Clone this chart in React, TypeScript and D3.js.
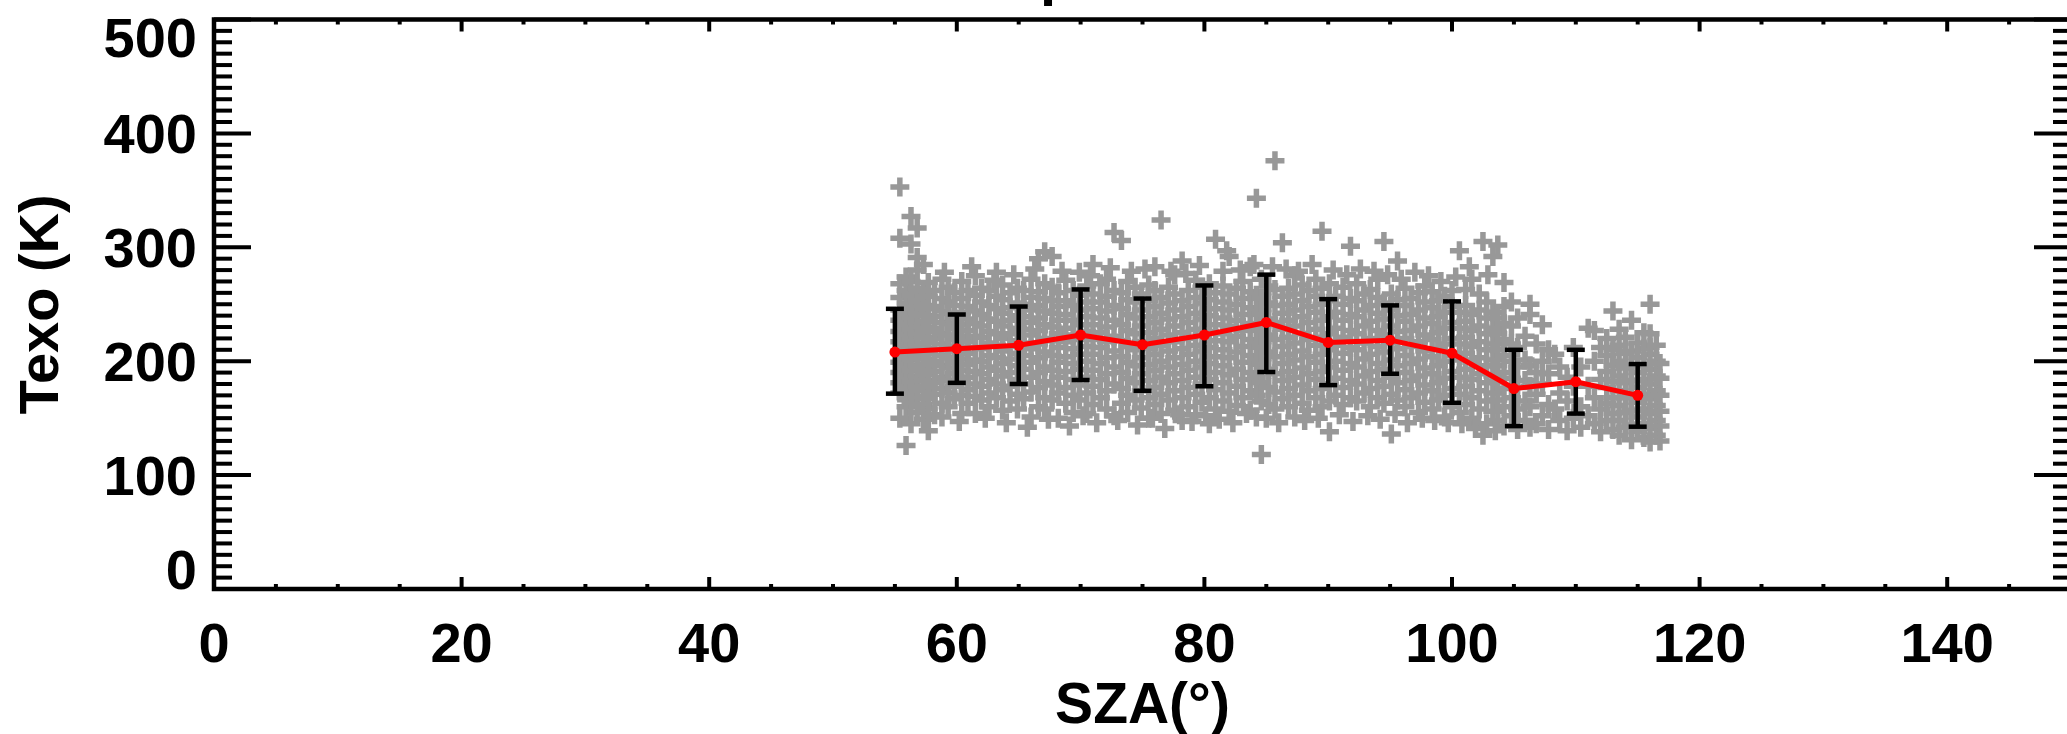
import React, { useEffect } from 'react';
import * as d3 from 'd3';

const W = 2067;
const H = 734;

// Binned means and error bars (SZA bins)
const binSza = [55, 60, 65, 70, 75, 80, 85, 90, 95, 100, 105, 110, 115];
const binMean = [208, 211, 214, 223, 214.5, 223, 234, 216.5, 218.5, 207, 176, 182, 170];
const binHigh = [246, 241, 248, 263, 255, 266.5, 276, 254.5, 249, 252.5, 210, 210, 197.5];
const binLow = [171.5, 181, 180, 183.5, 174, 178, 190.5, 179, 189, 163.5, 143, 154, 142.5];

const xMajorTicks = [0, 20, 40, 60, 80, 100, 120, 140];
const yMajorTicks = [0, 100, 200, 300, 400, 500];

// Individual measurements read column by column: [SZA, Texo values]
const scatterColumns: [number, number[]][] = [
  [55.4, [150, 172, 181, 190, 199, 208, 217, 226, 236, 245, 256, 268, 308, 353]],
  [55.9, [126, 160, 168, 177, 186, 195, 204, 214, 223, 232, 242, 251, 262, 274]],
  [56.3, [145, 164, 173, 182, 192, 201, 210, 219, 228, 238, 247, 258, 270, 303, 327]],
  [56.8, [155, 169, 178, 187, 196, 206, 215, 224, 234, 243, 253, 264, 280, 291, 317]],
  [57.3, [149, 162, 174, 183, 193, 202, 211, 221, 230, 240, 249, 261, 285]],
  [57.7, [139, 158, 167, 178, 188, 197, 207, 216, 226, 235, 246, 257, 269]],
  [58.2, [153, 171, 181, 191, 200, 210, 220, 229, 239, 248, 262]],
  [58.8, [151, 163, 176, 186, 196, 205, 215, 224, 234, 244, 255, 272]],
  [59.3, [160, 172, 183, 194, 203, 213, 223, 233, 242, 252, 265]],
  [59.8, [167, 178, 189, 199, 209, 219, 229, 238, 249, 260]],
  [60.4, [154, 170, 181, 192, 202, 212, 222, 232, 243, 255, 270]],
  [60.9, [163, 175, 186, 197, 207, 217, 227, 237, 248, 262]],
  [61.5, [154, 169, 180, 191, 201, 212, 222, 233, 244, 258, 275]],
  [62.0, [166, 178, 189, 200, 211, 221, 231, 241, 252, 264]],
  [62.6, [160, 172, 184, 195, 205, 216, 226, 237, 249, 262]],
  [63.2, [168, 180, 192, 203, 214, 224, 235, 246, 257, 278]],
  [63.7, [157, 175, 187, 198, 209, 220, 231, 242, 254, 267]],
  [64.3, [165, 178, 190, 202, 213, 224, 236, 247, 260]],
  [64.9, [158, 171, 184, 196, 207, 218, 229, 240, 251, 264]],
  [65.4, [167, 180, 193, 205, 216, 228, 239, 250, 262]],
  [66.0, [151, 173, 186, 199, 211, 223, 234, 245, 256, 272]],
  [66.6, [160, 177, 190, 203, 215, 227, 238, 249, 261, 290]],
  [67.1, [158, 168, 182, 195, 208, 220, 232, 244, 255, 268, 296]],
  [67.7, [166, 179, 192, 205, 218, 230, 242, 253, 265, 292]],
  [68.2, [150, 172, 186, 199, 212, 224, 236, 248, 260]],
  [68.8, [163, 177, 191, 204, 217, 229, 241, 253, 271]],
  [69.4, [155, 170, 184, 198, 211, 223, 236, 249, 262]],
  [69.9, [166, 179, 193, 206, 219, 232, 245, 258, 278]],
  [70.5, [154, 172, 186, 200, 213, 226, 239, 252, 266]],
  [71.0, [162, 178, 192, 206, 219, 232, 246, 259, 285]],
  [71.6, [168, 184, 198, 212, 225, 238, 252, 268]],
  [72.1, [158, 174, 189, 203, 217, 230, 244, 257, 272]],
  [72.7, [152, 180, 195, 209, 222, 236, 249, 262, 313]],
  [73.3, [163, 176, 190, 204, 218, 232, 246, 260, 306]],
  [73.8, [155, 170, 185, 199, 213, 227, 241, 254, 270]],
  [74.4, [166, 181, 196, 210, 224, 238, 252, 265]],
  [74.9, [159, 174, 189, 203, 217, 231, 245, 259]],
  [75.5, [150, 168, 183, 197, 211, 225, 239, 253, 267]],
  [76.0, [162, 177, 192, 206, 220, 234, 248, 262, 283]],
  [76.5, [154, 171, 186, 200, 214, 228, 242, 256, 324]],
  [77.1, [166, 181, 195, 209, 223, 237, 251, 265]],
  [77.6, [157, 174, 189, 203, 217, 231, 245, 259, 276]],
  [78.2, [148, 168, 183, 197, 211, 225, 239, 253, 288]],
  [78.7, [160, 177, 192, 206, 220, 234, 248, 262]],
  [79.3, [153, 171, 186, 200, 214, 228, 242, 256, 271]],
  [79.8, [164, 180, 195, 209, 223, 237, 251, 265]],
  [80.4, [145, 168, 184, 198, 212, 226, 240, 254, 268]],
  [80.9, [158, 175, 190, 204, 218, 232, 246, 260, 307]],
  [81.5, [165, 181, 196, 210, 224, 238, 252, 266, 279]],
  [82.0, [156, 172, 188, 203, 217, 231, 245, 259, 292]],
  [82.6, [161, 178, 193, 208, 222, 236, 250, 264]],
  [83.1, [168, 184, 199, 213, 227, 241, 255, 270]],
  [83.7, [157, 174, 190, 205, 219, 233, 247, 261, 283]],
  [84.2, [151, 170, 186, 201, 216, 230, 244, 258, 343]],
  [84.6, [118, 165, 181, 197, 212, 227, 241, 255, 272]],
  [85.2, [162, 177, 193, 208, 223, 237, 251, 266]],
  [85.7, [158, 173, 189, 204, 219, 234, 249, 263, 376]],
  [86.3, [167, 183, 198, 213, 228, 242, 257, 304]],
  [86.8, [160, 176, 191, 206, 221, 236, 250, 264]],
  [87.3, [151, 170, 186, 201, 216, 231, 245, 259, 275]],
  [87.9, [163, 179, 194, 209, 224, 239, 253, 267]],
  [88.4, [157, 174, 189, 204, 219, 234, 248, 262]],
  [89.0, [168, 184, 199, 214, 228, 243, 257, 272]],
  [89.5, [160, 176, 191, 206, 221, 236, 250, 264, 314]],
  [90.1, [138, 165, 180, 195, 210, 224, 239, 253, 268]],
  [90.6, [170, 185, 200, 214, 229, 243, 257]],
  [91.2, [162, 177, 192, 207, 221, 236, 250, 265]],
  [91.8, [168, 183, 198, 212, 227, 241, 255, 301]],
  [92.3, [165, 180, 195, 210, 224, 239, 253, 268]],
  [92.9, [172, 187, 202, 216, 231, 245, 259]],
  [93.4, [160, 176, 191, 206, 220, 235, 249, 263]],
  [94.0, [168, 183, 198, 213, 227, 242, 256, 272]],
  [94.5, [163, 178, 193, 208, 223, 237, 251, 305]],
  [95.1, [136, 171, 186, 201, 216, 231, 245, 259]],
  [95.6, [166, 181, 196, 211, 226, 240, 254, 288]],
  [96.2, [160, 175, 190, 205, 220, 235, 249, 264]],
  [96.7, [168, 183, 198, 213, 227, 241, 255]],
  [97.3, [155, 172, 187, 202, 217, 231, 245, 260]],
  [97.8, [164, 179, 194, 209, 223, 238, 252, 266]],
  [98.4, [158, 174, 189, 204, 219, 233, 247, 261]],
  [98.9, [166, 181, 196, 211, 225, 239, 253]],
  [99.4, [151, 170, 185, 200, 215, 229, 243, 257]],
  [100.0, [160, 176, 191, 205, 220, 234, 248, 262]],
  [100.6, [155, 171, 186, 201, 215, 229, 243, 297]],
  [101.1, [162, 178, 193, 207, 221, 235, 249, 263]],
  [101.6, [150, 168, 184, 199, 213, 227, 241, 272]],
  [102.2, [158, 174, 189, 203, 217, 231, 245, 259]],
  [102.5, [135, 305]],
  [102.8, [145, 165, 181, 196, 210, 224, 238, 252]],
  [103.3, [156, 172, 187, 201, 215, 229, 243, 292]],
  [103.7, [148, 166, 182, 196, 210, 224, 238, 302]],
  [104.2, [143, 160, 176, 190, 205, 219, 233, 248, 269]],
  [104.8, [152, 168, 185, 200, 215, 231, 252]],
  [105.3, [140, 158, 177, 195, 212, 238]],
  [105.9, [148, 165, 183, 201, 222]],
  [106.3, [142, 160, 178, 196, 241, 250]],
  [106.8, [145, 171, 190, 215]],
  [107.3, [152, 180, 200, 232]],
  [107.8, [140, 162, 189, 210]],
  [108.3, [158, 206]],
  [108.7, [148, 172, 195]],
  [109.3, [139, 165, 186]],
  [109.8, [150, 178, 212]],
  [110.4, [142, 160, 195]],
  [111.0, [152, 178, 229]],
  [111.5, [145, 168, 200, 227]],
  [112.0, [138, 158, 184, 212]],
  [112.5, [148, 163, 177, 191, 205, 220]],
  [113.0, [140, 154, 168, 182, 196, 210, 244]],
  [113.5, [135, 148, 161, 174, 187, 200, 214, 228]],
  [114.0, [142, 155, 168, 181, 194, 207, 221]],
  [114.5, [131, 144, 157, 170, 183, 196, 209, 236]],
  [115.0, [138, 151, 164, 177, 190, 203, 216]],
  [115.5, [133, 145, 158, 171, 184, 197, 211, 225]],
  [116.0, [129, 141, 154, 167, 180, 193, 206, 212, 224, 250]],
  [116.5, [135, 148, 161, 174, 187, 200, 214]],
  [116.8, [130, 143, 156, 170, 185, 198]],
];

// Scattered points at the upper and lower edges of the cloud: [SZA, Texo]
const scatterEdges: [number, number][] = [
  [59.0, 278], [60.2, 147], [61.2, 283], [62.3, 150], [63.0, 271], [64.0, 146], [64.6, 276],
  [65.7, 142], [66.3, 281], [67.4, 149], [68.5, 279], [69.1, 143], [70.2, 152], [70.8, 275],
  [71.3, 146], [72.4, 282], [73.0, 148], [74.1, 279], [74.6, 144], [75.2, 281], [75.8, 150],
  [76.8, 141], [77.3, 279], [78.0, 153], [78.5, 277], [79.0, 147], [79.6, 284], [80.1, 152],
  [81.2, 149], [81.8, 297], [82.3, 146], [82.9, 280], [83.4, 154], [84.0, 285], [85.0, 150],
  [85.5, 283], [86.0, 146], [86.6, 281], [87.6, 279], [88.1, 148], [88.7, 285], [89.2, 150],
  [90.4, 280], [90.9, 153], [91.5, 276], [92.0, 147], [92.6, 281], [93.2, 152], [93.7, 279],
  [94.2, 149], [94.8, 276], [95.4, 154], [95.9, 272], [96.4, 146], [97.0, 278], [97.6, 150],
  [98.1, 275], [98.6, 148], [99.1, 270], [99.7, 146], [100.3, 274], [100.8, 145], [101.4, 283],
  [101.9, 141], [102.9, 276], [103.5, 139],
];

const FONT = "'Liberation Sans', Arial, Helvetica, sans-serif";

export default function App() {
  useEffect(() => {
    document.body.style.margin = '0';
    document.body.style.overflow = 'hidden';
  }, []);

  const x = d3.scaleLinear().domain([0, 150]).range([214, 2071]);
  const y = d3.scaleLinear().domain([0, 500]).range([589, 19.5]);

  const x0 = x(0), x1 = x(150), y0 = y(0), y1 = y(500);

  const points: [number, number][] = scatterColumns
    .flatMap(([s, vs]) => vs.map((v) => [s, v] as [number, number]))
    .concat(scatterEdges);

  const xMinor = d3.range(0, 151, 5);
  const yMinor = d3.range(0, 501, 10);

  const line = d3
    .line<number>()
    .x((_, i) => x(binSza[i]))
    .y((d) => y(d));

  const labelY = (v: number) => Math.min(Math.max(y(v), y1 + 17), y0 - 20);

  return (
    <svg width={W} height={H} style={{ position: 'absolute', left: 0, top: 0, background: '#fff' }}>
      <rect x={0} y={0} width={W} height={H} fill="#fff" />
      {/* title (only descender visible inside the picture) */}
      <text x={1040} y={-6} fontFamily={FONT} fontWeight="bold" fontSize={58} fill="#000">
        p
      </text>

      {/* scatter */}
      <g stroke="#989898" strokeWidth={5.5} fill="none">
        {points.map(([s, v], i) => (
          <path key={i} d={`M${x(s) - 9.5},${y(v)}h19M${x(s)},${y(v) - 9.5}v19`} />
        ))}
      </g>

      {/* error bars */}
      <g stroke="#000" strokeWidth={4.5} fill="none">
        {binSza.map((s, i) => (
          <g key={i}>
            <line x1={x(s)} x2={x(s)} y1={y(binLow[i])} y2={y(binHigh[i])} />
            <line x1={x(s) - 9} x2={x(s) + 9} y1={y(binLow[i])} y2={y(binLow[i])} />
            <line x1={x(s) - 9} x2={x(s) + 9} y1={y(binHigh[i])} y2={y(binHigh[i])} />
          </g>
        ))}
      </g>

      {/* mean line */}
      <path d={line(binMean) || ''} stroke="#ff0000" strokeWidth={5} fill="none" strokeLinejoin="round" />
      <g fill="#ff0000">
        {binSza.map((s, i) => (
          <circle key={i} cx={x(s)} cy={y(binMean[i])} r={5.5} />
        ))}
      </g>

      {/* frame */}
      <rect x={x0} y={y1} width={x1 - x0} height={y0 - y1} fill="none" stroke="#000" strokeWidth={4.5} />

      {/* x ticks bottom & top */}
      <g stroke="#000" strokeWidth={4}>
        {xMinor.map((t) => {
          const len = t % 20 === 0 ? 12 : 5;
          return (
            <g key={t}>
              <line x1={x(t)} x2={x(t)} y1={y0} y2={y0 - len} />
              <line x1={x(t)} x2={x(t)} y1={y1} y2={y1 + len} />
            </g>
          );
        })}
      </g>

      {/* y ticks left & right */}
      <g stroke="#000" strokeWidth={4}>
        {yMinor.map((t) => {
          const len = t % 100 === 0 ? 37 : 18;
          return (
            <g key={t}>
              <line x1={x0} x2={x0 + len} y1={y(t)} y2={y(t)} />
              <line x1={x1} x2={x1 - len} y1={y(t)} y2={y(t)} />
            </g>
          );
        })}
      </g>

      {/* tick labels */}
      <g fontFamily={FONT} fontWeight="bold" fontSize={56} fill="#000">
        {xMajorTicks.map((t) => (
          <text key={t} x={x(t)} y={662} textAnchor="middle">
            {t}
          </text>
        ))}
        {yMajorTicks.map((t) => (
          <text key={t} x={197} y={labelY(t) + 20} textAnchor="end">
            {t}
          </text>
        ))}
      </g>

      {/* axis titles */}
      <text x={(x0 + x1) / 2} y={723} textAnchor="middle" fontFamily={FONT} fontWeight="bold" fontSize={57} fill="#000">
        SZA(°)
      </text>
      <text
        transform={`translate(58, ${(y0 + y1) / 2}) rotate(-90)`}
        textAnchor="middle"
        fontFamily={FONT}
        fontWeight="bold"
        fontSize={56}
        fill="#000"
      >
        Texo (K)
      </text>
    </svg>
  );
}
